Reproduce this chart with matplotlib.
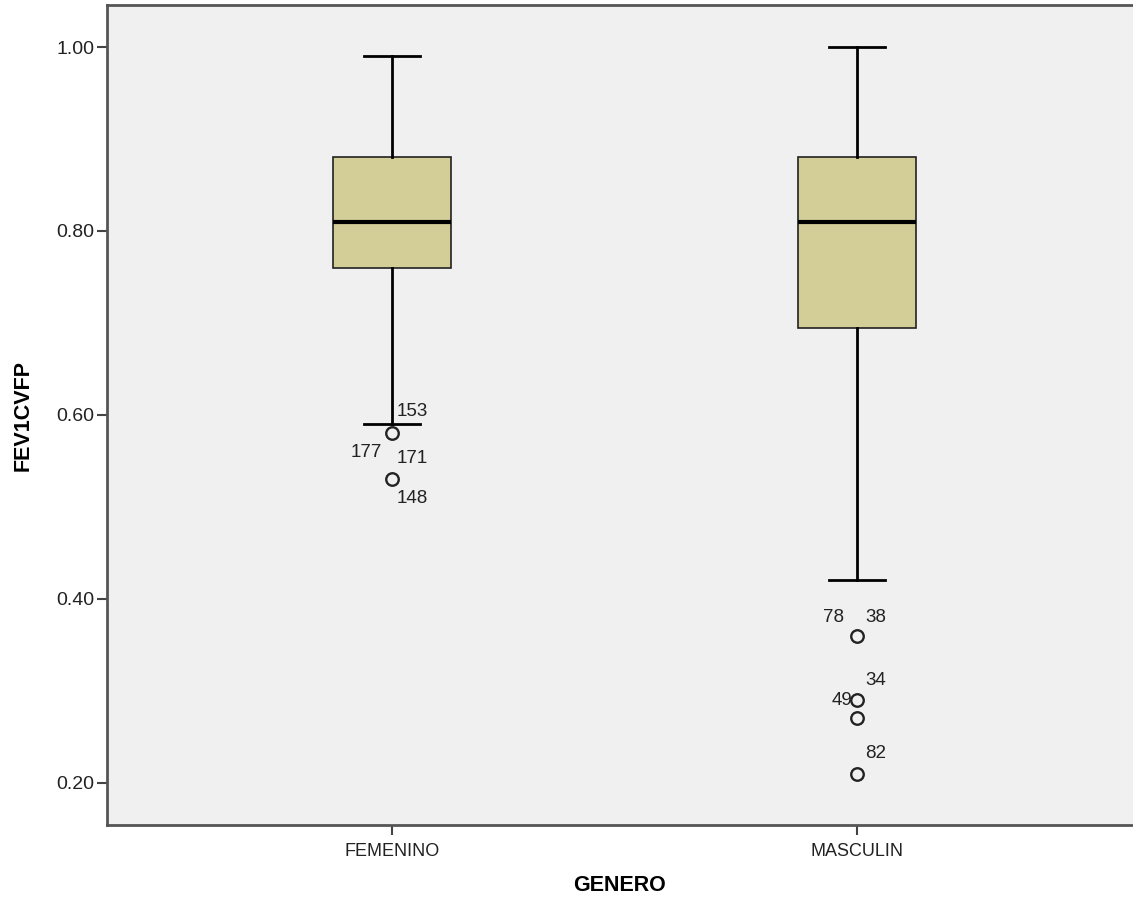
import matplotlib
matplotlib.use('Agg')
import matplotlib.pyplot as plt

plt.rcParams['font.family'] = ['Liberation Sans', 'DejaVu Sans']

# data
categories = ['FEMENINO', 'MASCULIN']
q1 = [0.76, 0.695]
medians = [0.81, 0.81]
q3 = [0.88, 0.88]
whis_lo = [0.59, 0.42]
whis_hi = [0.99, 1.00]
outliers = [[0.58, 0.53], [0.36, 0.29, 0.27, 0.21]]

# case labels: (category index, value, label, dx px, dy px, ha)
case_labels = [
    (0, 0.58, '153', 5, 22, 'left'),
    (0, 0.58, '177', -10, -19, 'right'),
    (0, 0.58, '171', 5, -25, 'left'),
    (0, 0.53, '148', 5, -19, 'left'),
    (1, 0.36, '78', -13, 18, 'right'),
    (1, 0.36, '38', 8, 18, 'left'),
    (1, 0.29, '34', 8, 19, 'left'),
    (1, 0.29, '49', -4, -1, 'right'),
    (1, 0.21, '82', 8, 20, 'left'),
]

stats = []
for i, c in enumerate(categories):
    stats.append({'label': c, 'q1': q1[i], 'med': medians[i], 'q3': q3[i],
                  'whislo': whis_lo[i], 'whishi': whis_hi[i], 'fliers': outliers[i]})

fig = plt.figure(figsize=(11.33, 9.09), dpi=100)
ax = fig.add_axes([0.0944, 0.0924, 0.9056, 0.9021])
ax.set_facecolor('#F0F0F0')

positions = list(range(len(categories)))
ax.bxp(stats, positions=positions, widths=0.254, capwidths=0.12,
       patch_artist=True,
       boxprops=dict(facecolor='#D3CE97', edgecolor='#222222', linewidth=1.2),
       medianprops=dict(color='black', linewidth=3),
       whiskerprops=dict(color='black', linewidth=2),
       capprops=dict(color='black', linewidth=2),
       flierprops=dict(marker='o', markersize=9, markerfacecolor='none',
                       markeredgecolor='#222222', markeredgewidth=1.7))

for ci, v, lab, dx, dy, ha in case_labels:
    ax.annotate(lab, (positions[ci], v), xytext=(dx, dy), textcoords='offset pixels',
                ha=ha, va='center', fontsize=13.5, color='#222222')

ax.set_xlim(-0.613, 1.594)
ax.set_ylim(0.154, 1.0457)
ax.set_yticks([0.2, 0.4, 0.6, 0.8, 1.0])
ax.set_yticklabels(['0.20', '0.40', '0.60', '0.80', '1.00'])
ax.set_xticks(positions)
ax.set_xticklabels(categories)
ax.tick_params(axis='both', color='#444444', width=1.5, length=7,
               labelcolor='#222222')
ax.tick_params(axis='y', labelsize=14, pad=2)
ax.tick_params(axis='x', labelsize=13, pad=6)

for side in ['left', 'bottom', 'top']:
    ax.spines[side].set_color('#555555')
    ax.spines[side].set_linewidth(2)
ax.spines['right'].set_visible(False)

ax.set_ylabel('FEV1CVFP', fontsize=15.5, fontweight='bold', labelpad=16)
ax.set_xlabel('GENERO', fontsize=15.5, fontweight='bold', labelpad=11)

fig.savefig('out.png', dpi=100)
